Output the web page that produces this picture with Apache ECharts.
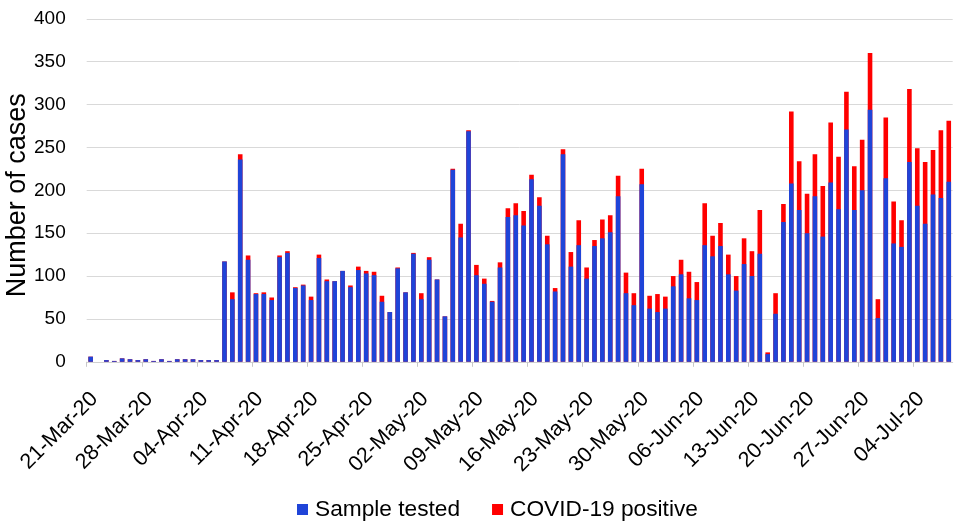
<!DOCTYPE html>
<html>
<head>
<meta charset="utf-8">
<script src="https://cdn.jsdelivr.net/npm/echarts@6/dist/echarts.min.js"></script>
<style>html,body{margin:0;padding:0;background:#fff;}#c{width:962px;height:531px;}</style>
</head>
<body>
<div id="c"></div>
<script>
// One bar per day, 21-Mar-20 .. 08-Jul-20 (110 days)
var tickLabels = ['21-Mar-20','28-Mar-20','04-Apr-20','11-Apr-20','18-Apr-20','25-Apr-20','02-May-20','09-May-20','16-May-20','23-May-20','30-May-20','06-Jun-20','13-Jun-20','20-Jun-20','27-Jun-20','04-Jul-20'];
var sampleTested = [6,0,2,1,4,3,2,3,1,3,1,3,3,3,2,2,2,117,73,236,119,79,79,72,122,127,86,89,72,121,94,94,106,87,107,103,101,70,58,109,81,126,73,119,96,53,224,145,269,101,91,70,110,169,171,159,213,182,137,82,242,111,136,97,135,144,151,193,80,66,207,62,58,62,88,102,74,72,136,123,135,102,83,114,100,126,9,56,163,208,177,150,193,146,209,178,271,177,200,294,51,214,138,134,233,182,161,195,191,210];
var covidPositive = [0,0,0,0,0,0,0,0,0,0,0,0,0,0,0,0,0,0,8,6,5,1,2,3,2,2,1,1,4,4,2,0,0,2,4,3,4,7,0,1,0,1,7,3,0,0,1,16,1,12,6,1,6,10,14,17,5,10,10,4,6,17,29,13,7,22,20,24,24,14,18,15,21,14,12,17,31,21,49,24,27,23,17,30,29,51,2,24,21,84,57,46,49,59,70,61,44,51,59,66,22,71,49,31,85,67,72,52,79,71];

var blueData = sampleTested.map(function (v, i) { return [i + 0.5, v]; });
var totalData = sampleTested.map(function (v, i) { return [i + 0.5, v + covidPositive[i]]; });

var font = "'Liberation Sans', Arial, sans-serif";
var chart = echarts.init(document.getElementById('c'));
chart.setOption({
  animation: false,
  textStyle: { fontFamily: font },
  grid: { left: 86.7, right: 9.3, top: 18.8, bottom: 169.2, containLabel: false, outerBoundsMode: 'none' },
  legend: {
    data: ['Sample tested', 'COVID-19 positive'],
    left: 297, top: 498, padding: 0,
    icon: 'rect', itemWidth: 11, itemHeight: 11, itemGap: 32,
    textStyle: { fontSize: 22.7, color: '#000', fontFamily: font, padding: [0, 0, 0, 2] }
  },
  xAxis: {
    type: 'value', min: 0, max: sampleTested.length, interval: 7,
    splitLine: { show: false },
    axisLine: { show: true, lineStyle: { color: '#d0d0d0', width: 1 } },
    axisTick: { show: true, length: 5, lineStyle: { color: '#c8c8c8' } },
    axisLabel: {
      rotate: 45, fontSize: 21.5, color: '#000', margin: 26, fontFamily: font,
      verticalAlign: 'top',
      showMaxLabel: false,
      formatter: function (v) { return (v % 7 === 0 && tickLabels[v / 7]) ? tickLabels[v / 7] : ''; }
    }
  },
  yAxis: {
    type: 'value', min: 0, max: 400, interval: 50,
    name: 'Number of cases', nameLocation: 'middle', nameGap: 56, nameMoveOverlap: false,
    nameTextStyle: { fontSize: 27, color: '#000', fontFamily: font, padding: [0, 10, 0, 0] },
    axisLine: { show: false }, axisTick: { show: false },
    splitLine: { lineStyle: { color: '#d9d9d9', width: 1 } },
    axisLabel: { fontSize: 19, color: '#000', margin: 21, fontFamily: font }
  },
  series: [
    { name: 'COVID-19 positive', type: 'bar', data: totalData, barWidth: 4.6, barGap: '-100%',
      itemStyle: { color: '#ff0000' } },
    { name: 'Sample tested', type: 'bar', data: blueData, barWidth: 4.6, barGap: '-100%',
      itemStyle: { color: '#1f44d8' } }
  ]
});
</script>
</body>
</html>
